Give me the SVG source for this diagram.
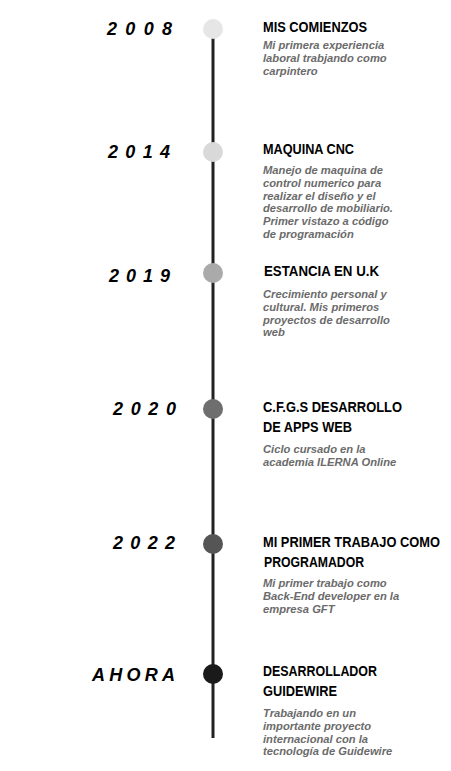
<svg xmlns="http://www.w3.org/2000/svg" width="451" height="771" viewBox="0 0 451 771">
<style>
.year{font-family:"Liberation Sans",Arial,sans-serif;font-weight:bold;font-style:italic;font-size:18px;fill:#000}
.head{font-family:"Liberation Sans",Arial,sans-serif;font-weight:bold;font-size:15px;fill:#000}
.desc{font-family:"Liberation Sans",Arial,sans-serif;font-weight:bold;font-style:italic;font-size:11.2px;fill:#6b6b6b}
.line{stroke:#222;stroke-width:3;fill:none}
</style>
<rect width="451" height="771" fill="#fff"/>
<g id="connectors">
<line class="line" x1="213" y1="38" x2="213" y2="738"/>
</g>
<g id="n2008">
<circle cx="213" cy="29" r="10" fill="#e6e6e6"/>
<text class="year" x="107" y="35" textLength="65" lengthAdjust="spacing">2008</text>
<text class="head" x="263" y="32" textLength="104" lengthAdjust="spacingAndGlyphs">MIS COMIENZOS</text>
<text class="desc" x="263" y="49">Mi primera experiencia</text>
<text class="desc" x="263" y="62">laboral trabjando como</text>
<text class="desc" x="263" y="75">carpintero</text>
</g>
<g id="n2014">
<circle cx="213" cy="152" r="10" fill="#d9d9d9"/>
<text class="year" x="108" y="158" textLength="62" lengthAdjust="spacing">2014</text>
<text class="head" x="263" y="154" textLength="91" lengthAdjust="spacingAndGlyphs">MAQUINA CNC</text>
<text class="desc" x="263" y="174">Manejo de maquina de</text>
<text class="desc" x="263" y="187">control numerico para</text>
<text class="desc" x="263" y="199.5">realizar el diseño y el</text>
<text class="desc" x="263" y="212">desarrollo de mobiliario.</text>
<text class="desc" x="263" y="225">Primer vistazo a código</text>
<text class="desc" x="263" y="237.5">de programación</text>
</g>
<g id="n2019">
<circle cx="213" cy="273" r="10" fill="#aaaaaa"/>
<text class="year" x="109" y="282" textLength="61" lengthAdjust="spacing">2019</text>
<text class="head" x="264" y="276" textLength="115" lengthAdjust="spacingAndGlyphs">ESTANCIA EN U.K</text>
<text class="desc" x="263" y="298">Crecimiento personal y</text>
<text class="desc" x="263" y="311">cultural. Mis primeros</text>
<text class="desc" x="263" y="323.5">proyectos de desarrollo</text>
<text class="desc" x="263" y="336">web</text>
</g>
<g id="n2020">
<circle cx="213" cy="409" r="10" fill="#6e6e6e"/>
<text class="year" x="113" y="415" textLength="63" lengthAdjust="spacing">2020</text>
<text class="head" x="263" y="412" textLength="139" lengthAdjust="spacingAndGlyphs">C.F.G.S DESARROLLO</text>
<text class="head" x="263" y="432" textLength="89" lengthAdjust="spacingAndGlyphs">DE APPS WEB</text>
<text class="desc" x="263" y="453">Ciclo cursado en la</text>
<text class="desc" x="263" y="466">academia ILERNA Online</text>
</g>
<g id="n2022">
<circle cx="213" cy="544" r="10" fill="#555555"/>
<text class="year" x="113" y="549" textLength="62" lengthAdjust="spacing">2022</text>
<text class="head" transform="translate(263,547) scale(0.857,1)" x="0" y="0">MI PRIMER TRABAJO COMO</text>
<text class="head" x="264" y="567" textLength="100" lengthAdjust="spacingAndGlyphs">PROGRAMADOR</text>
<text class="desc" x="263" y="587">Mi primer trabajo como</text>
<text class="desc" x="263" y="600">Back-End developer en la</text>
<text class="desc" x="263" y="613">empresa GFT</text>
</g>
<g id="nAhora">
<circle cx="213" cy="674" r="10" fill="#1a1a1a"/>
<text class="year" x="92" y="681" textLength="83" lengthAdjust="spacing">AHORA</text>
<text class="head" x="263" y="676" textLength="114" lengthAdjust="spacingAndGlyphs">DESARROLLADOR</text>
<text class="head" x="263" y="696" textLength="74" lengthAdjust="spacingAndGlyphs">GUIDEWIRE</text>
<text class="desc" x="263" y="717">Trabajando en un</text>
<text class="desc" x="263" y="730">importante proyecto</text>
<text class="desc" x="263" y="742.5">internacional con la</text>
<text class="desc" x="263" y="755">tecnología de Guidewire</text>
</g>
</svg>
